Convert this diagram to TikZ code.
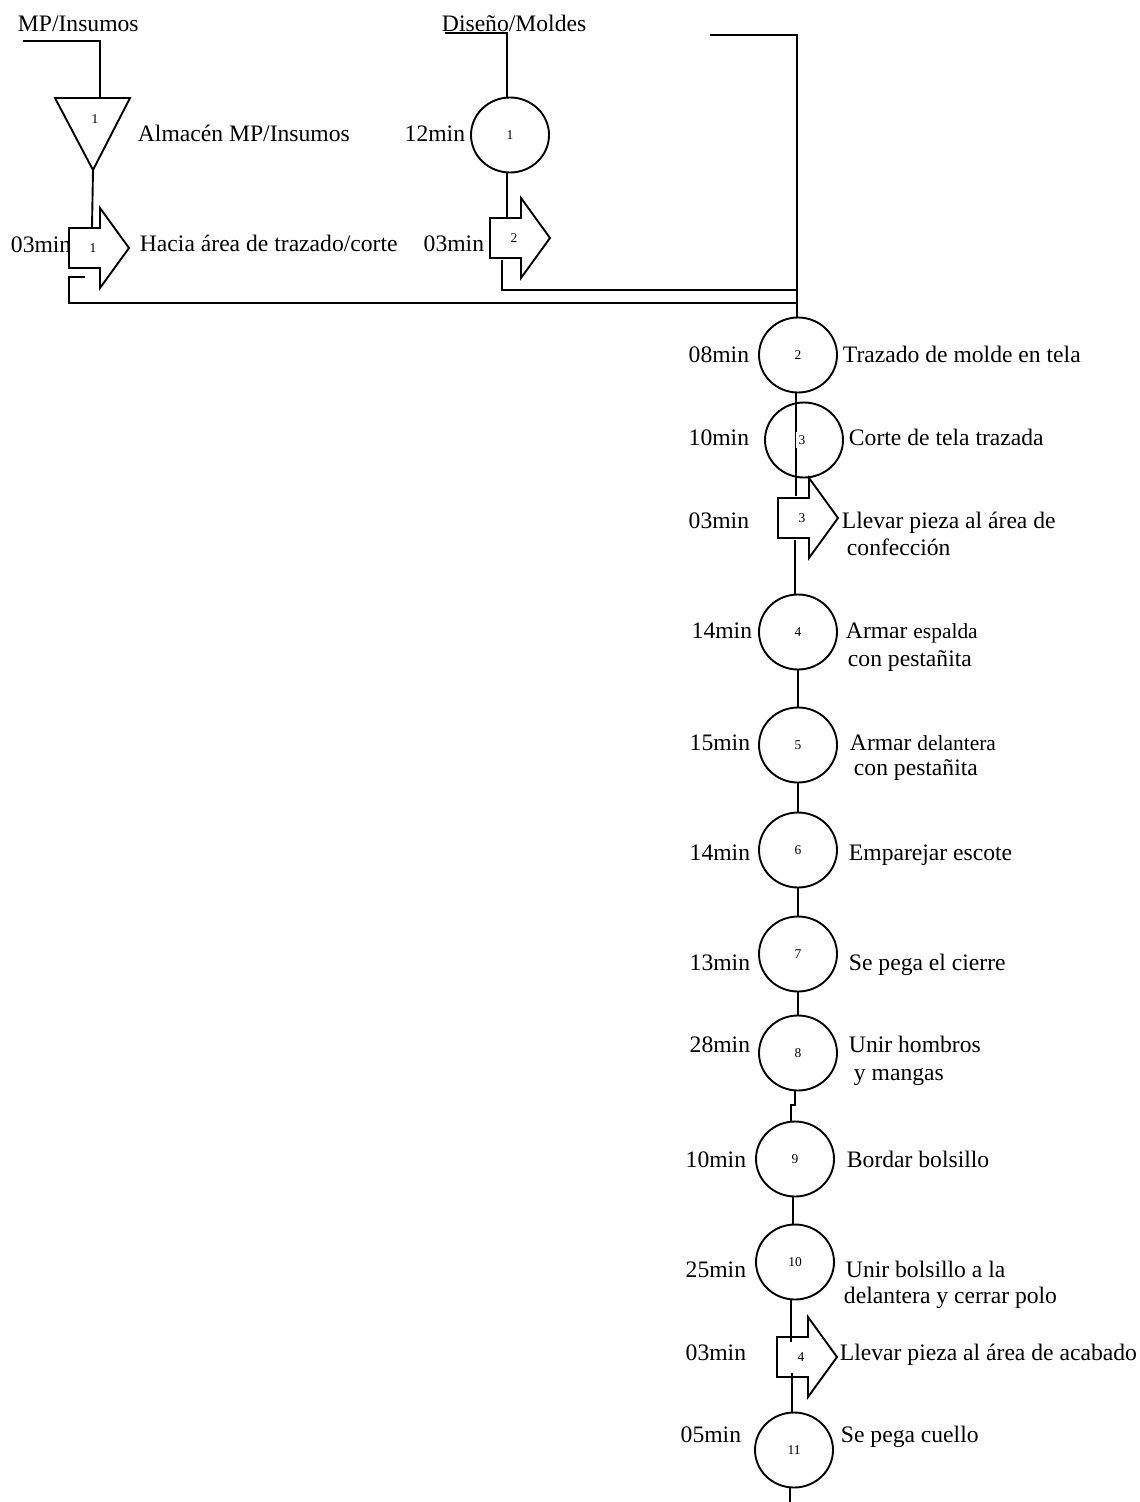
\documentclass[tikz,border=0pt]{standalone}
\usepackage{fontspec}
\setmainfont{Liberation Serif}
\usetikzlibrary{shapes.geometric}
\newcommand\transp[4]{% name, body left, centre y, number
  \draw[fill=white] (#2,#3-20) -- (#2+31,#3-20) -- (#2+31,#3-40) -- (#2+60,#3)
     -- (#2+31,#3+40) -- (#2+31,#3+20) -- (#2,#3+20) -- cycle;
  \node[num] (#1) at (#2+24,#3) {#4};
  \coordinate (#1-t) at (#2,#3-20);
  \coordinate (#1-b) at (#2,#3+20);
}
\begin{document}
\begin{tikzpicture}[x=1bp,y=-1bp, line width=1.9bp,
  lbl/.style={inner sep=0pt, font=\fontsize{23.7}{28}\selectfont},
  lw/.style={lbl, anchor=base west},
  le/.style={lbl, anchor=base east},
  op/.style={draw, ellipse, minimum width=78bp, minimum height=75bp, inner sep=0pt, font=\fontsize{13.5}{14}\selectfont},
  num/.style={inner sep=0.5pt, font=\fontsize{13.5}{14}\selectfont}]
\useasboundingbox (0,0) rectangle (1139,1502);

% ---------- left branch: MP / Insumos ----------
\node[lw] (mpt) at (17,31.5) {MP/Insumos};
\coordinate (mp) at (23,41);
\draw (mp) -- (100,41) -- (100,98);
\draw (55,98) -- (130,98) -- (93,170) -- cycle;
\node[num] (alm) at (95,119) {1};
\coordinate (almb) at (93,170);
\node[lw] at (137,142) {Almacén MP/Insumos};
\node[lw] at (10,252) {03min};
\draw (almb) -- (92,228);
\transp{a1}{69}{248}{1}
\node[lw] at (139,251) {Hacia área de trazado/corte};
\coordinate (br1) at (85,277);
\coordinate (j1) at (797,303);
\draw (br1) -- (69,277) -- (69,303) -- (j1);

% ---------- middle branch: Diseño / Moldes ----------
\node[lw] (dmt) at (441,31.5) {Diseño/Moldes};
\coordinate (dm) at (445,33);
\node[op] (d1) at (510,135) {1};
\draw (dm) -- (507,33) -- (507,97);
\node[le] at (466,142) {12min};
\draw (507,173) -- (507,218);
\transp{a2}{490}{238}{2}
\node[le] at (485,251) {03min};
\coordinate (j2) at (797,290);
\draw (502,260) -- (502,290) -- (j2);

% ---------- top right entry ----------
\coordinate (tr) at (710,35);

% ---------- main column ----------
\node[op] (c2) at (798,355) {2};
\node[op] (c3) at (804,440) {};
\draw (tr) -- (797,35) -- (797,318);
\draw (c2.south -| 796,0) -- (796,496);
\node[num, fill=white, inner sep=3pt] at (802,440) {3};
\transp{a3}{778}{518}{3}
\node[op] (c4) at (798,632) {4};
\node[op] (c5) at (798,745) {5};
\node[op] (c6) at (798,850) {6};
\node[op] (c7) at (798,954) {7};
\node[op] (c8) at (798,1053) {8};
\node[op] (c9) at (795,1159) {9};
\node[op] (c10) at (795,1262) {10};
\transp{a4}{777}{1357}{4}
\node[op] (c11) at (794,1450) {11};
\coordinate (fin) at (790,1502);

\draw (795,540) -- (795,595);
\draw (c4.south) -- (c5.north);
\draw (c5.south) -- (c6.north);
\draw (c6.south) -- (c7.north);
\draw (c7.south) -- (c8.north);
\draw (795,1090) -- (795,1105) -- (791,1105) -- (791,1122);
\draw (c9.south -| 793,0) -- (793,1225);
\draw (791,1300) -- (791,1342);
\draw (792,1373) -- (792,1413);
\draw (790,1487) -- (fin);

% ---------- labels main column ----------
\node[le] at (750,362) {08min};
\node[lw] at (842,362) {Trazado de molde en tela};
\node[le] at (750,445) {10min};
\node[lw] at (848,445) {Corte de tela trazada};
\node[le] at (750,528) {03min};
\node[lw] at (841,528) {Llevar pieza al área de};
\node[lw] at (846,555) {confección};
\node[le] at (753,638) {14min};
\node[lw] at (845,638) {Armar {\fontsize{21.5}{26}\selectfont espalda}};
\node[lw] at (847,666) {con pestañita};
\node[le] at (751,750) {15min};
\node[lw] at (849,750) {Armar {\fontsize{21.5}{26}\selectfont delantera}};
\node[lw] at (853,775) {con pestañita};
\node[le] at (751,860) {14min};
\node[lw] at (848,860) {Emparejar escote};
\node[le] at (751,970) {13min};
\node[lw] at (848,970) {Se pega el cierre};
\node[le] at (751,1052) {28min};
\node[lw] at (848,1052) {Unir hombros};
\node[lw] at (853,1080) {y mangas};
\node[le] at (747,1167) {10min};
\node[lw] at (846,1167) {Bordar bolsillo};
\node[le] at (747,1277) {25min};
\node[lw] at (845,1277) {Unir bolsillo a la};
\node[lw] at (843,1303) {delantera y cerrar polo};
\node[le] at (747,1360) {03min};
\node[lw] at (839,1360) {Llevar pieza al área de acabado};
\node[le] at (742,1442) {05min};
\node[lw] at (840,1442) {Se pega cuello};
\end{tikzpicture}
\end{document}
